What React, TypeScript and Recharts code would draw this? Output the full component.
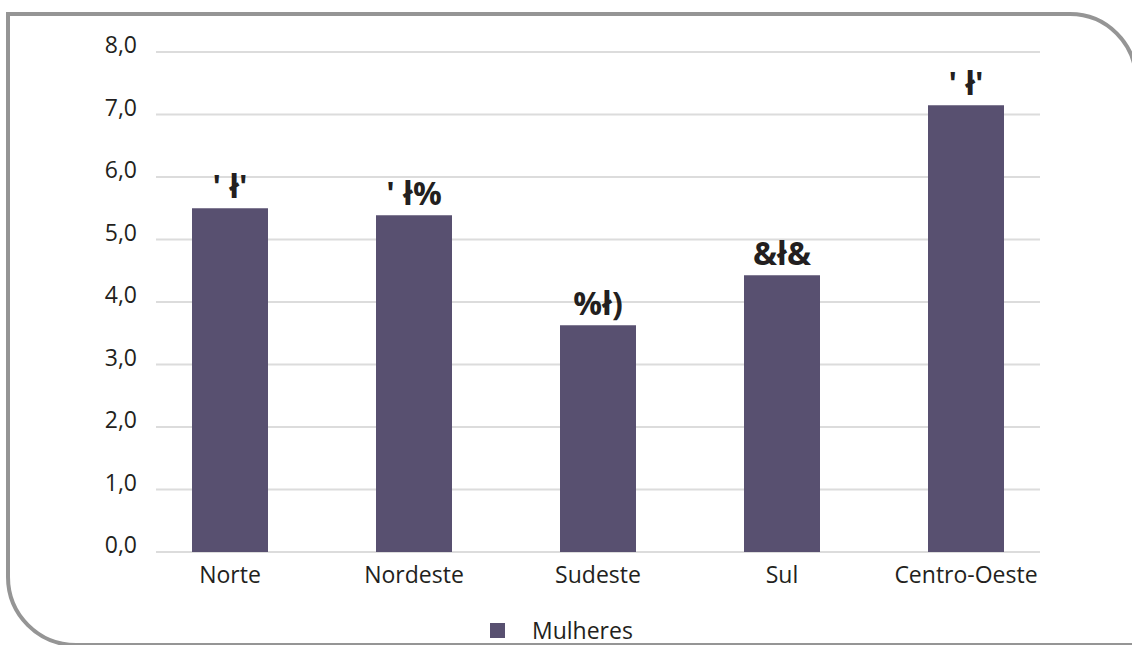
import React from "react";
import { BarChart, Bar, XAxis, YAxis, CartesianGrid, LabelList, Legend } from "recharts";

const categories = ["Norte", "Nordeste", "Sudeste", "Sul", "Centro-Oeste"];
const values = [5.5, 5.39, 3.63, 4.43, 7.15];
const valueLabels = ["' ł'", "' ł%", "%ł)", "&ł&", "' ł'"];
const yTicks = [0, 1, 2, 3, 4, 5, 6, 7, 8];
const seriesName = "Mulheres";

const data = categories.map((c, i) => ({ name: c, value: values[i], label: valueLabels[i] }));

const BAR_COLOR = "#585070";
const TEXT_COLOR = "#231f20";
const FONT = "'Open Sans', 'Noto Sans', sans-serif";

const gridLine = (props: any) => {
  const { x1, x2, y1, y2, key, index } = props;
  return (
    <line
      key={key ?? `g-${index}-${y1}`}
      x1={x1 + 18}
      x2={x2 - 18}
      y1={y1}
      y2={y2}
      stroke="#dcdcdc"
      strokeWidth={2}
    />
  );
};

const LegendContent = () => (
  <div style={{ display: "flex", alignItems: "center", height: 32, fontFamily: FONT }}>
    <span style={{ display: "inline-block", width: 15, height: 15, background: BAR_COLOR }} />
    <span style={{ marginLeft: 27, fontSize: 23, color: TEXT_COLOR, lineHeight: "32px" }}>{seriesName}</span>
  </div>
);

export default function App() {
  return (
    <div
      style={{
        position: "fixed",
        left: 0,
        top: 0,
        width: 1132,
        height: 645,
        overflow: "hidden",
        background: "#fff",
        fontFamily: FONT,
      }}
    >
      <div
        style={{
          position: "absolute",
          left: 6,
          top: 12,
          width: 1132,
          height: 635,
          boxSizing: "border-box",
          border: "4px solid #959595",
          borderTopRightRadius: 68,
          borderBottomLeftRadius: 70,
        }}
      />
      <div style={{ position: "absolute", left: 0, top: 0 }}>
        <BarChart
          width={1132}
          height={645}
          data={data}
          margin={{ top: 52, right: 74, bottom: 63, left: 0 }}
          barSize={76}
        >
          <CartesianGrid vertical={false} horizontal={gridLine} />
          <XAxis
            dataKey="name"
            height={30}
            axisLine={false}
            tickLine={false}
            tickSize={0}
            tickMargin={15}
            interval={0}
            tick={{ fontSize: 23, fill: TEXT_COLOR, fontFamily: FONT }}
          />
          <YAxis
            width={138}
            domain={[0, 8]}
            ticks={yTicks}
            interval={0}
            axisLine={false}
            tickLine={false}
            tickSize={0}
            tickMargin={1}
            tickFormatter={(v: number) => v.toFixed(1).replace(".", ",")}
            tick={{ fontSize: 23, fill: TEXT_COLOR, fontFamily: FONT, dy: -7 }}
          />
          <Legend
            layout="horizontal"
            verticalAlign="middle"
            align="center"
            wrapperStyle={{ top: 614, left: 490, width: 200, height: 32 }}
            content={LegendContent}
          />
          <Bar dataKey="value" name={seriesName} fill={BAR_COLOR} isAnimationActive={false}>
            <LabelList
              dataKey="label"
              position="top"
              offset={10}
              style={{ fontSize: 32, fontWeight: 700, fill: TEXT_COLOR, fontFamily: FONT }}
            />
          </Bar>
        </BarChart>
      </div>
    </div>
  );
}
